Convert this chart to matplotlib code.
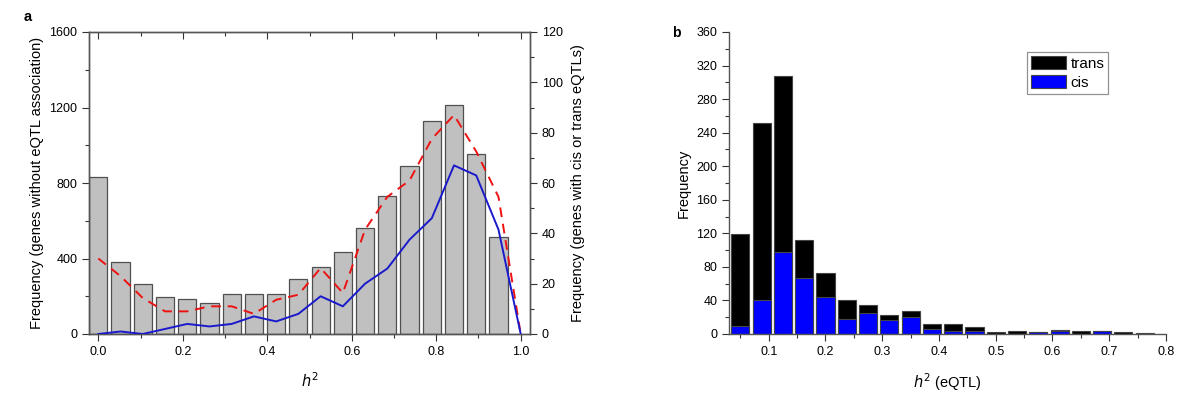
import matplotlib
matplotlib.use("Agg")
import matplotlib.pyplot as plt
from matplotlib.ticker import MultipleLocator, FormatStrFormatter
import numpy as np

plt.rcParams['font.family'] = ['Liberation Sans', 'DejaVu Sans']

# ---- Panel a data ----
a_bin_step = 1.0 / 19
a_no_eqtl = [831, 379, 265, 196, 183, 164, 212, 212, 212, 293, 353, 437, 559,
             730, 891, 1129, 1212, 953, 513]
a_red = [30, 23, 14.3, 9, 9, 11, 11, 8, 13.6, 15.6, 26.2, 16.3, 41.5, 54.5,
         61, 77.5, 87, 72.5, 54.5, 0]
a_blue = [0, 1, 0, 2, 4, 3, 4, 7, 5, 8, 15, 11, 20, 26, 37.5, 46, 67, 63, 41.5, 0]

# ---- Panel b data ----
b_start = 0.05
b_step = 0.0375
b_trans = [119, 251, 307, 112, 73, 41, 35, 23, 27, 12, 12, 8, 2, 4, 2, 5, 4, 3, 2, 1]
b_cis = [10, 41, 98, 67, 44, 18, 25, 17, 20, 6, 4, 3.5, 0, 0, 2, 3, 0, 3, 0, 0]

W, H = 1200, 401
fig = plt.figure(figsize=(W / 100, H / 100), dpi=100)

def ax_rect(l, t, r, b):
    return [l / W, 1 - b / H, (r - l) / W, (b - t) / H]

tick_fs = 9
lab_fs = 10.5

def style_ticks(a):
    a.tick_params(which='both', direction='out', labelsize=tick_fs,
                  color='#333333', width=0.8)
    a.tick_params(which='major', length=5)
    a.tick_params(which='minor', length=3)

# ---------- Panel a ----------
ax = fig.add_axes(ax_rect(89, 32, 530, 334))
xa = np.arange(len(a_no_eqtl)) * a_bin_step
ax.bar(xa, a_no_eqtl, width=a_bin_step * 0.82, color='#c0c0c0',
       edgecolor='#505050', linewidth=0.9, zorder=1)
ax.set_xlim(-0.022, 1.022)
ax.set_ylim(0, 1600)
ax.yaxis.set_major_locator(MultipleLocator(400))
ax.yaxis.set_minor_locator(MultipleLocator(200))
ax.xaxis.set_major_locator(MultipleLocator(0.2))
ax.xaxis.set_minor_locator(MultipleLocator(0.1))
ax.xaxis.set_major_formatter(FormatStrFormatter('%.1f'))
style_ticks(ax)
for s in ax.spines.values():
    s.set_color('#555555')
    s.set_linewidth(1.0)
ax.set_ylabel('Frequency (genes without eQTL association)', fontsize=lab_fs, labelpad=4)
ax.set_xlabel('$h^2$', fontsize=lab_fs, labelpad=10)

# top ticks pointing inward
axt = ax.secondary_xaxis('top')
axt.xaxis.set_major_locator(MultipleLocator(0.2))
axt.xaxis.set_minor_locator(MultipleLocator(0.1))
axt.tick_params(which='both', direction='in', labeltop=False, color='#333333', width=0.8)
axt.tick_params(which='major', length=5)
axt.tick_params(which='minor', length=3)
axt.spines['top'].set_visible(False)

ax2 = ax.twinx()
xl = np.arange(len(a_red)) * a_bin_step
ax2.plot(xl, a_red, color='#ee1111', linestyle=(0, (5, 3.5)), linewidth=1.4, zorder=3)
ax2.plot(xl, a_blue, color='#1a1acc', linewidth=1.4, zorder=3)
ax2.set_ylim(0, 120)
ax2.yaxis.set_major_locator(MultipleLocator(20))
ax2.yaxis.set_minor_locator(MultipleLocator(10))
style_ticks(ax2)
for s in ax2.spines.values():
    s.set_color('#555555')
    s.set_linewidth(1.0)
ax2.set_ylabel('Frequency (genes with cis or trans eQTLs)', fontsize=lab_fs, labelpad=6)

fig.text(24 / W, 1 - 17 / H, 'a', fontsize=10.5, fontweight='bold', va='center', ha='left')

# ---------- Panel b ----------
bl, bt, br, bb = 729, 32, 1166, 334
bx = fig.add_axes(ax_rect(bl, bt, br, bb))
xb = b_start + np.arange(len(b_trans)) * b_step
bx.bar(xb, b_trans, width=b_step * 0.85, color='black', edgecolor='#444444',
       linewidth=0.8, label='trans', zorder=1)
bx.bar(xb, b_cis, width=b_step * 0.85, color='#0000ff', edgecolor='#444444',
       linewidth=0.8, label='cis', zorder=2)
bx.set_xlim(0.03, 0.8)
bx.set_ylim(0, 360)
bx.yaxis.set_major_locator(MultipleLocator(40))
bx.yaxis.set_minor_locator(MultipleLocator(20))
bx.xaxis.set_major_locator(MultipleLocator(0.1))
bx.xaxis.set_minor_locator(MultipleLocator(0.05))
bx.xaxis.set_major_formatter(FormatStrFormatter('%.1f'))
style_ticks(bx)
bx.spines['top'].set_visible(False)
bx.spines['right'].set_visible(False)
for s in ('left', 'bottom'):
    bx.spines[s].set_color('#555555')
    bx.spines[s].set_linewidth(1.0)
bx.set_ylabel('Frequency', fontsize=lab_fs, labelpad=4)
bx.set_xlabel('$h^2$ (eQTL)', fontsize=lab_fs, labelpad=10)
leg = bx.legend(loc='upper left',
                bbox_to_anchor=((1027 - bl) / (br - bl), 1 - (52 - bt) / (bb - bt)),
                frameon=True, fancybox=False, edgecolor='#777777', fontsize=11,
                handlelength=2.3, handleheight=0.95, handletextpad=0.3,
                borderpad=0.25, labelspacing=0.3, borderaxespad=0)
leg.get_frame().set_linewidth(0.9)

fig.text(672 / W, 1 - 33 / H, 'b', fontsize=10, fontweight='bold', va='center', ha='left')

fig.savefig('out.png', dpi=100)
